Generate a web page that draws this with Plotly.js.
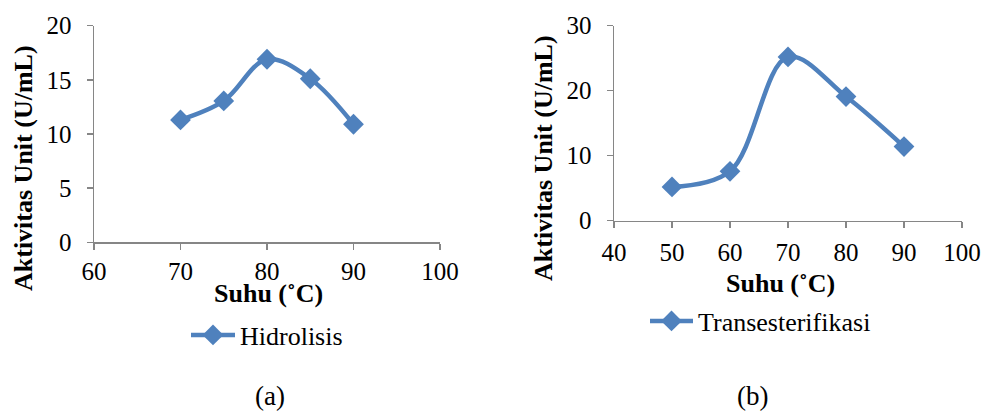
<!DOCTYPE html>
<html>
<head>
<meta charset="utf-8">
<script src="https://cdn.plot.ly/plotly-3.0.1.min.js"></script>
<style>html,body{margin:0;padding:0;background:#fff;}#chart{width:984px;height:412px;}</style>
</head>
<body>
<div id="chart"></div>
<script>
const suhuA = [70, 75, 80, 85, 90];
const hidrolisis = [11.3, 13.05, 16.9, 15.1, 10.9];
const suhuB = [50, 60, 70, 80, 90];
const transesterifikasi = [5.2, 7.6, 25.2, 19.1, 11.4];
const xTicksA = [60, 70, 80, 90, 100];
const yTicksA = [0, 5, 10, 15, 20];
const xTicksB = [40, 50, 60, 70, 80, 90, 100];
const yTicksB = [0, 10, 20, 30];

const W = 984, H = 412;
const blue = '#4F81BD';
const axisColor = '#868686';
const serif = "'Liberation Serif', 'Times New Roman', serif";

const traces = [
  {x: suhuA, y: hidrolisis, name: 'Hidrolisis', type: 'scatter', mode: 'lines+markers',
   line: {color: blue, width: 4.5, shape: 'spline', smoothing: 1},
   marker: {symbol: 'diamond', size: 16, color: blue},
   xaxis: 'x', yaxis: 'y', legend: 'legend'},
  {x: suhuB, y: transesterifikasi, name: 'Transesterifikasi', type: 'scatter', mode: 'lines+markers',
   line: {color: blue, width: 4.5, shape: 'spline', smoothing: 1},
   marker: {symbol: 'diamond', size: 16, color: blue},
   xaxis: 'x2', yaxis: 'y2', legend: 'legend2'}
];

function ax(extra) {
  return Object.assign({
    showgrid: false, zeroline: false, showline: true, linecolor: axisColor, linewidth: 1.5,
    ticks: 'outside', ticklen: 6, tickcolor: axisColor, tickwidth: 1.5,
    tickfont: {family: serif, size: 25, color: '#000'}, fixedrange: true
  }, extra);
}

const layout = {
  width: W, height: H,
  margin: {l: 0, r: 0, t: 0, b: 0},
  paper_bgcolor: '#fff', plot_bgcolor: '#fff',
  showlegend: true,
  xaxis: ax({domain: [94/W, 440/W], range: [60, 100], tickvals: xTicksA, anchor: 'y', ticklabelstandoff: 0}),
  yaxis: ax({domain: [1-242.3/H, 1-25.7/H], range: [0, 20], tickvals: yTicksA, anchor: 'x', ticklabelstandoff: 10}),
  xaxis2: ax({domain: [614/W, 962/W], range: [40, 100], tickvals: xTicksB, anchor: 'y2', ticklabelstandoff: 3}),
  yaxis2: ax({domain: [1-220.7/H, 1-25.7/H], range: [0, 30], tickvals: yTicksB, anchor: 'x2', ticklabelstandoff: 10}),
  legend: {x: 186/W, y: 1-335/H, xanchor: 'left', yanchor: 'middle', bgcolor: 'rgba(0,0,0,0)',
           font: {family: serif, size: 26, color: '#000'}, itemwidth: 44},
  legend2: {x: 645/W, y: 1-321/H, xanchor: 'left', yanchor: 'middle', bgcolor: 'rgba(0,0,0,0)',
           font: {family: serif, size: 26, color: '#000'}, itemwidth: 43},
  annotations: [
    {text: '<b>Aktivitas Unit (U/mL)</b>', xref: 'paper', yref: 'paper', x: 23/W, y: 1-168/H,
     textangle: -90, showarrow: false, font: {family: serif, size: 26, color: '#000'}, xanchor: 'center', yanchor: 'middle'},
    {text: '<b>Suhu (˚C)</b>', xref: 'paper', yref: 'paper', x: 268/W, y: 1-293/H,
     showarrow: false, font: {family: serif, size: 26, color: '#000'}, xanchor: 'center', yanchor: 'middle'},
    {text: '<b>Aktivitas Unit (U/mL)</b>', xref: 'paper', yref: 'paper', x: 543/W, y: 1-158/H,
     textangle: -90, showarrow: false, font: {family: serif, size: 26, color: '#000'}, xanchor: 'center', yanchor: 'middle'},
    {text: '<b>Suhu (˚C)</b>', xref: 'paper', yref: 'paper', x: 780/W, y: 1-283/H,
     showarrow: false, font: {family: serif, size: 26, color: '#000'}, xanchor: 'center', yanchor: 'middle'},
    {text: '(a)', xref: 'paper', yref: 'paper', x: 270/W, y: 1-396/H,
     showarrow: false, font: {family: serif, size: 27, color: '#000'}, xanchor: 'center', yanchor: 'middle'},
    {text: '(b)', xref: 'paper', yref: 'paper', x: 752/W, y: 1-396/H,
     showarrow: false, font: {family: serif, size: 27, color: '#000'}, xanchor: 'center', yanchor: 'middle'}
  ]
};

Plotly.newPlot('chart', traces, layout, {displayModeBar: false, staticPlot: true});
</script>
</body>
</html>
